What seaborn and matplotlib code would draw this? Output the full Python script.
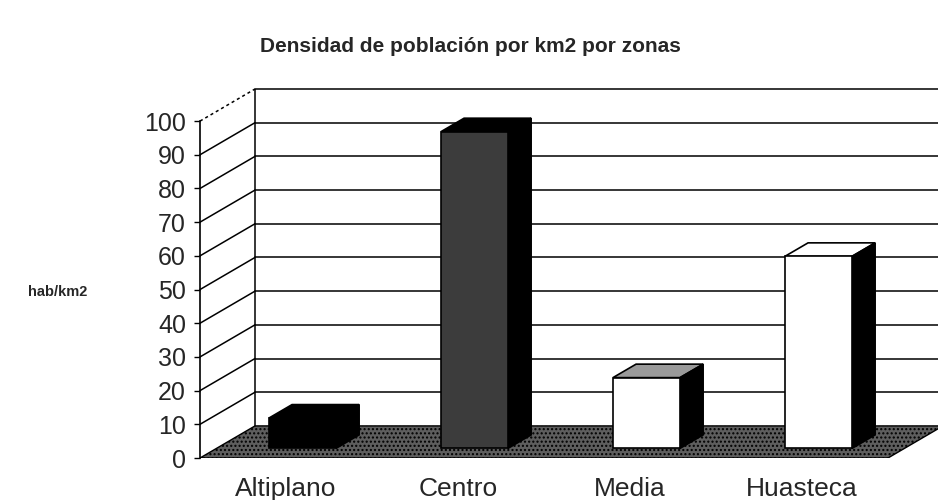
import numpy as np
import pandas as pd
import matplotlib
matplotlib.use("Agg")
import matplotlib.pyplot as plt
from matplotlib.patches import Polygon
import seaborn as sns

# ---- data ----
zonas = ["Altiplano", "Centro", "Media", "Huasteca"]
densidad = [9, 94, 21, 57]
yticks = list(range(0, 101, 10))
titulo = "Densidad de población por km2 por zonas"
ylabel = "hab/km2"

front_colors = ["#000000", "#3c3c3c", "#ffffff", "#ffffff"]
top_colors = ["#000000", "#000000", "#9a9a9a", "#ffffff"]
side_color = "#000000"

sns.set_theme(style="white")
plt.rcParams["font.family"] = ["Liberation Sans", "DejaVu Sans"]

fig = plt.figure(figsize=(9.38, 5.0), dpi=100)
L, B, R, T = 200, 458, 938, 89          # pixel frame of the axes
ax = fig.add_axes([L / 938, (500 - B) / 500, (R - L) / 938, (B - T) / 500])

px_x = (888 - L) / 4.0                  # pixels per category unit
px_y = (B - 122) / 100.0                # pixels per value unit
dx = 55 / px_x                          # depth offset in data units
dy = 32 / px_y
xmax = 3.5 + (R - 888) / px_x

df = pd.DataFrame({"zona": zonas, "valor": densidad})
sns.barplot(data=df, x="zona", y="valor", ax=ax, width=0.39,
            palette=front_colors, hue="zona", legend=False,
            edgecolor="black", linewidth=1.2, saturation=1, zorder=5)
ax.set_xlim(-0.5, xmax)
ax.set_ylim(0, 100 + dy)

# floor
floor = Polygon([(-0.5, 0), (3.5, 0), (3.5 + dx, dy), (-0.5 + dx, dy)],
                closed=True, facecolor="#5e5e5e", edgecolor="black",
                hatch="....", linewidth=1.0, zorder=1)
ax.add_patch(floor)

# back wall gridlines and left wall diagonals
for v in yticks[1:]:
    ls = (0, (2, 2)) if v == 100 else "-"
    ax.plot([-0.5 + dx, xmax], [v + dy, v + dy], color="black", lw=1.1,
            zorder=2, clip_on=False)
    ax.plot([-0.5, -0.5 + dx], [v, v + dy], color="black", lw=1.1,
            ls=ls, zorder=2, clip_on=False)
ax.plot([-0.5 + dx, -0.5 + dx], [dy, 100 + dy], color="black", lw=1.1, zorder=2)

# 3D bars: shift front faces to mid depth, add top and side faces
frac0, frac1 = 0.3, 0.72
ddx, ddy = (frac1 - frac0) * dx, (frac1 - frac0) * dy
for i, p in enumerate(ax.patches[:len(zonas)]):
    x0 = p.get_x() + frac0 * dx
    y0 = frac0 * dy
    w, h = p.get_width(), p.get_height()
    p.set_x(x0)
    p.set_y(y0)
    x1 = x0 + w
    top = Polygon([(x0, y0 + h), (x1, y0 + h), (x1 + ddx, y0 + h + ddy),
                   (x0 + ddx, y0 + h + ddy)], closed=True,
                  facecolor=top_colors[i], edgecolor="black", lw=1.2, zorder=4)
    side = Polygon([(x1, y0), (x1, y0 + h), (x1 + ddx, y0 + h + ddy),
                    (x1 + ddx, y0 + ddy)], closed=True,
                   facecolor=side_color, edgecolor="black", lw=1.2, zorder=4)
    ax.add_patch(top)
    ax.add_patch(side)

# axes styling
for s in ["top", "right", "bottom"]:
    ax.spines[s].set_visible(False)
ax.spines["left"].set_bounds(0, 100)
ax.spines["left"].set_color("black")
ax.spines["left"].set_linewidth(1.2)
ax.set_yticks(yticks)
ax.set_yticklabels([str(v) for v in yticks], fontsize=18)
ax.tick_params(axis="y", direction="out", length=4, width=1, color="black",
               pad=6, left=True)
ax.set_xticks(range(len(zonas)))
ax.set_xticklabels(zonas, fontsize=19)
ax.tick_params(axis="x", length=0, pad=14)
ax.set_xlabel("")
ax.set_ylabel("")
ax.grid(False)

fig.text(58 / 938, 1 - 292 / 500, ylabel, fontsize=10.5, fontweight="bold",
         ha="center", va="center")
fig.text(470 / 938, 1 - 47 / 500, titulo, fontsize=15, fontweight="bold",
         ha="center", va="center")

fig.savefig("out.png", dpi=100)
